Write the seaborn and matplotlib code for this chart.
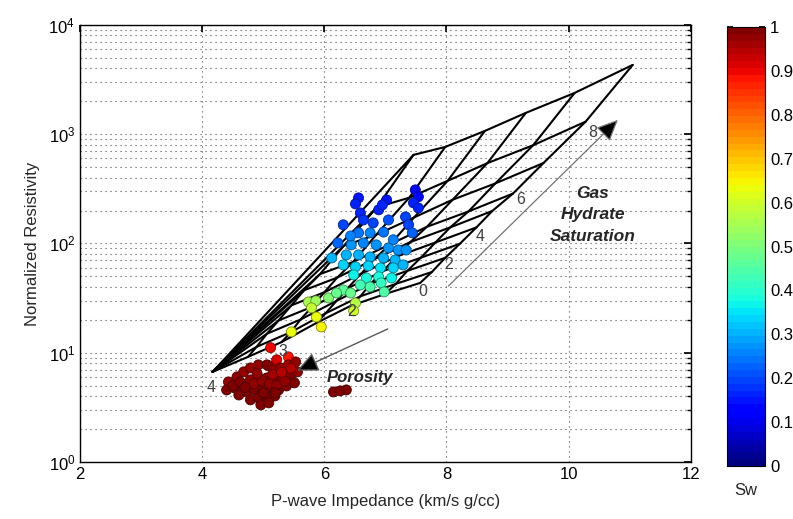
import numpy as np
import pandas as pd
import matplotlib
matplotlib.use("Agg")
import matplotlib.pyplot as plt
import seaborn as sns
from matplotlib.colors import Normalize
from matplotlib.cm import ScalarMappable
from matplotlib.ticker import NullLocator

# ---------------- data ----------------
porosity = [0.40, 0.35, 0.30, 0.25, 0.20, 0.15, 0.10]
hydrate_sat = [0.0, 0.1, 0.2, 0.3, 0.4, 0.5, 0.6, 0.7, 0.8, 0.9]

# template node impedance (rows: porosity, cols: hydrate saturation)
imp_grid = [
    [4.17, 4.17, 4.17, 4.17, 4.17, 4.17, 4.17, 4.17, 4.17, 4.17],
    [4.75, 4.89, 5.06, 5.25, 5.46, 5.67, 5.93, 6.32, 6.86, 7.46],
    [5.30, 5.45, 5.61, 5.80, 6.00, 6.21, 6.47, 6.85, 7.39, 7.98],
    [5.87, 6.02, 6.20, 6.38, 6.60, 6.81, 7.08, 7.47, 8.02, 8.63],
    [6.43, 6.59, 6.76, 6.96, 7.18, 7.41, 7.68, 8.10, 8.67, 9.30],
    [7.00, 7.17, 7.36, 7.58, 7.82, 8.06, 8.36, 8.80, 9.42, 10.10],
    [7.57, 7.76, 7.98, 8.22, 8.49, 8.75, 9.09, 9.59, 10.28, 11.05],
]
# template node normalized resistivity
res_grid = [
    [6.67, 6.67, 6.67, 6.67, 6.67, 6.67, 6.67, 6.67, 6.67, 6.67],
    [9.15, 11.3, 14.9, 19.7, 27.1, 37.3, 52.4, 95.1, 214, 646],
    [12.5, 15.4, 20.1, 26.3, 35.7, 48.6, 67.6, 120, 262, 764],
    [18.7, 22.9, 29.8, 38.8, 52.6, 71.2, 98.3, 173, 374, 1071],
    [26.8, 32.8, 42.8, 55.7, 75.6, 103, 142, 251, 543, 1566],
    [34.5, 42.6, 56.1, 74.0, 102, 140, 196, 354, 792, 2387],
    [43.5, 54.7, 73.8, 99.3, 140, 198, 286, 545, 1303, 4303],
]

# well-log data points
pt_imp = [
    6.56, 6.51, 6.59, 6.64, 6.89, 7.02, 6.95, 7.49, 7.54, 7.46, 7.54, 7.33, 7.38, 7.44, 6.22, 6.31, 6.80, 7.05,
    6.12, 6.56, 6.75, 6.97, 7.13, 6.44, 6.64, 6.85, 7.05, 7.21, 6.36, 6.56, 6.75, 6.97, 7.16, 6.31, 6.51, 6.72,
    6.92, 7.13, 6.48, 6.69, 6.89, 7.10, 7.29, 7.34, 6.43,
    6.59, 6.75, 6.93, 6.98, 6.31, 6.43, 6.07, 6.20,
    5.74, 5.86, 6.51, 6.48, 5.79,
    5.87, 5.95, 5.46,
    5.12, 5.41, 5.22, 5.09,
    4.43, 4.57, 4.68, 4.79, 4.92, 5.06, 5.17, 5.28, 5.41, 5.53,
    4.40, 4.53, 4.66, 4.79, 4.92, 5.06, 5.19, 5.32, 5.45, 5.56,
    4.60, 4.73, 4.86, 4.99, 5.12, 5.25, 5.38, 5.51,
    4.79, 4.92, 5.06, 5.19, 4.96, 5.09,
    4.50, 4.62, 4.85, 4.98, 5.10, 5.22, 5.35, 5.15, 5.30, 4.90, 5.45, 5.00, 5.20, 4.70,
    6.15, 6.26, 6.36,
]
pt_res = [
    261, 230, 190, 164, 203, 250, 225, 309, 267, 235, 211, 175, 148, 125, 101, 148, 154, 164,
    73.6, 125, 125, 127, 108, 97, 101, 97, 91, 87, 78.5, 78.5, 75.2, 73.6, 70.6, 63.6, 61, 62.3,
    59.7, 59.7, 51.5, 48.3, 49.4, 48.3, 63.6, 87, 117,
    41.7, 40, 43.5, 36, 37.5, 35.2, 31.7, 35.2,
    29.1, 29.8, 28.5, 24.1, 25.7,
    21.2, 17.2, 15.5,
    11.1, 9.15, 8.6, 7.57,
    5.40, 6.00, 6.67, 7.25, 7.73, 7.73, 6.95, 7.25, 7.73, 8.23,
    4.56, 4.76, 5.07, 5.63, 5.87, 5.87, 5.63, 5.87, 6.26, 6.67,
    4.10, 4.37, 4.56, 4.76, 4.76, 4.56, 4.96, 5.29,
    3.70, 3.85, 4.02, 4.02, 3.33, 3.47,
    5.0, 5.4, 5.2, 5.5, 5.2, 5.0, 5.5, 6.3, 6.6, 6.4, 7.2, 4.3, 4.3, 4.8,
    4.37, 4.47, 4.56,
]
pt_sw = [
    0.15, 0.16, 0.17, 0.18, 0.17, 0.15, 0.16, 0.13, 0.14, 0.16, 0.17, 0.19, 0.20, 0.22, 0.22, 0.20, 0.20, 0.21,
    0.30, 0.24, 0.25, 0.24, 0.26, 0.27, 0.26, 0.27, 0.28, 0.27, 0.30, 0.30, 0.31, 0.31, 0.30, 0.33, 0.34, 0.34,
    0.35, 0.34, 0.37, 0.38, 0.38, 0.37, 0.30, 0.27, 0.25,
    0.43, 0.44, 0.42, 0.45, 0.46, 0.47, 0.50, 0.48,
    0.55, 0.54, 0.57, 0.60, 0.58,
    0.63, 0.65, 0.64,
    0.90, 0.88, 0.92, 0.94,
    0.98, 0.98, 0.97, 0.97, 0.98, 0.99, 0.98, 0.97, 0.96, 0.97,
    1.00, 0.99, 0.99, 0.98, 0.99, 1.00, 0.99, 0.98, 0.99, 0.98,
    1.00, 1.00, 0.99, 1.00, 0.99, 1.00, 0.99, 1.00,
    1.00, 1.00, 1.00, 1.00, 1.00, 1.00,
    0.99, 0.99, 0.98, 0.98, 0.97, 0.98, 0.97, 0.96, 0.95, 0.97, 0.95, 1.00, 1.00, 0.99,
    1.00, 1.00, 1.00,
]

xticks = [2, 4, 6, 8, 10, 12]
cbar_ticks = [0, 0.1, 0.2, 0.3, 0.4, 0.5, 0.6, 0.7, 0.8, 0.9, 1.0]
cbar_labels = ["0", "0.1", "0.2", "0.3", "0.4", "0.5", "0.6", "0.7", "0.8", "0.9", "1"]

# line annotations: (text, impedance, resistivity)
sat_labels = [("0", 7.62, 36), ("2", 8.03, 63.6), ("4", 8.55, 115), ("6", 9.21, 250), ("8", 10.40, 1026)]
por_labels = [("2", 6.44, 23.6), ("3", 5.32, 10.2), ("4", 4.14, 4.76)]

# ---------------- style ----------------
sns.set_theme(style="white")
plt.rcParams["font.family"] = ["Liberation Sans", "DejaVu Sans"]
plt.rcParams["axes.edgecolor"] = "black"
plt.rcParams["axes.linewidth"] = 1.0

jet = plt.get_cmap("jet", 64)

fig = plt.figure(figsize=(7.93, 5.19), dpi=100)
fig.patch.set_facecolor("white")
ax = fig.add_axes([0.101, 0.110, 0.770, 0.842])
cax = fig.add_axes([0.917, 0.102, 0.048, 0.846])

# template mesh as long-form table
rows = []
for i, p in enumerate(porosity):
    for j, s in enumerate(hydrate_sat):
        rows.append(dict(line=f"phi{i}", order=j, imp=imp_grid[i][j], res=res_grid[i][j]))
for j, s in enumerate(hydrate_sat):
    for i, p in enumerate(porosity):
        rows.append(dict(line=f"sh{j}", order=i, imp=imp_grid[i][j], res=res_grid[i][j]))
mesh = pd.DataFrame(rows)

ax.set_yscale("log")
sns.lineplot(data=mesh, x="imp", y="res", units="line", estimator=None, sort=False,
             color="black", lw=1.5, ax=ax, legend=False, zorder=2)

pts = pd.DataFrame(dict(imp=pt_imp, res=pt_res, Sw=pt_sw))
sns.scatterplot(data=pts, x="imp", y="res", hue="Sw", palette=jet, hue_norm=(0, 1),
                s=52, linewidth=0.6, legend=False, ax=ax, zorder=3)
coll = ax.collections[-1]
fc = np.array(coll.get_facecolors())
ec = fc.copy()
ec[:, :3] *= 0.55
coll.set_edgecolors(ec)

# arrows
ax.annotate("", xy=(5.51, 6.67), xytext=(7.08, 16.9),
            arrowprops=dict(arrowstyle="-|>,head_length=1.1,head_width=0.5", fc="black", ec="0.35", lw=1.0),
            zorder=4)
ax.annotate("", xy=(10.84, 1409), xytext=(8.00, 39.1),
            arrowprops=dict(arrowstyle="-|>,head_length=1.1,head_width=0.5", fc="black", ec="0.45", lw=0.9),
            zorder=4)
ax.text(6.58, 5.87, "Porosity", fontsize=12, fontweight="bold", fontstyle="italic",
        ha="center", va="center", color="0.15")
ax.text(10.40, 182, "Gas\nHydrate\nSaturation", fontsize=12.5, fontweight="bold", fontstyle="italic",
        ha="center", va="center", color="0.15", linespacing=1.55)
for t, x, y in sat_labels + por_labels:
    ax.text(x, y, t, fontsize=11.5, ha="center", va="center", color="0.25")

# axes formatting
ax.set_xlim(2, 12)
ax.set_ylim(1, 1e4)
ax.set_xticks(xticks)
ax.xaxis.set_minor_locator(NullLocator())
ax.tick_params(which="both", direction="in", top=True, right=True, labelsize=12, colors="black")
ax.tick_params(which="major", length=5)
ax.tick_params(which="minor", length=3)
ax.grid(True, which="major", axis="both", linestyle=(0, (1, 3.5)), color="0.3", linewidth=0.8)
ax.grid(True, which="minor", axis="y", linestyle=(0, (1, 3.5)), color="0.3", linewidth=0.8)
ax.set_axisbelow(True)
for sp in ax.spines.values():
    sp.set_color("black")
    sp.set_linewidth(1.0)
ax.set_xlabel("P-wave Impedance (km/s g/cc)", fontsize=12, color="0.15", labelpad=9)
ax.set_ylabel("Normalized Resistivity", fontsize=12, color="0.15", labelpad=6)

# colorbar
sm = ScalarMappable(norm=Normalize(0, 1), cmap=jet)
cb = fig.colorbar(sm, cax=cax)
cb.set_ticks(cbar_ticks)
cb.set_ticklabels(cbar_labels)
cax.tick_params(direction="in", length=4, labelsize=12, right=True, left=True, colors="black")
cb.outline.set_edgecolor("black")
cb.outline.set_linewidth(0.8)
cax.set_xlabel("Sw", fontsize=12, labelpad=12)

fig.savefig("out.png", dpi=100)
